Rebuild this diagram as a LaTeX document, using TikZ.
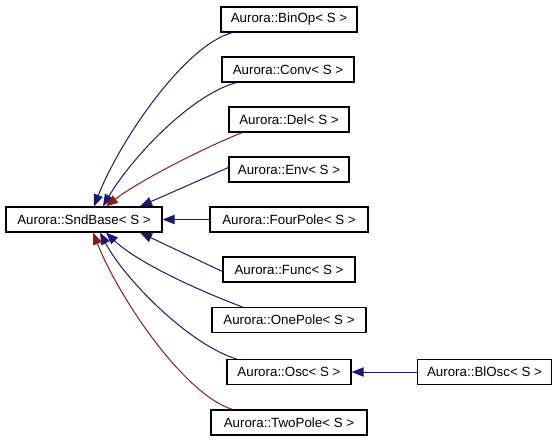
\documentclass[tikz,border=0pt]{standalone}
\usepackage{fontspec}
\setmainfont{Liberation Sans}
\usetikzlibrary{arrows.meta,calc}
\definecolor{edgeblue}{RGB}{25,25,112}
\definecolor{edgered}{RGB}{139,26,26}
\begin{document}
\begin{tikzpicture}[x=0.75pt,y=-0.75pt,
  cls/.style={draw=black,line width=0.9pt,fill=white,minimum height=18.75pt,inner sep=0pt,font=\fontsize{10}{12}\selectfont},
  pub/.style={draw=edgeblue,line width=0.75pt,-{Triangle[length=9pt,width=7pt]}},
  prot/.style={draw=edgered,line width=0.75pt,-{Triangle[length=9pt,width=7pt]}},
  pubf/.style={fill=edgeblue},protf/.style={fill=edgered}]
\useasboundingbox (0,0) rectangle (560,443);
\node[cls,minimum width=117pt] (sb) at (84,219.5) {Aurora::SndBase< S >};
\node[cls,minimum width=102pt] (bo) at (289,19.5) {Aurora::BinOp< S >};
\node[cls,minimum width=99pt] (cv) at (288,69.5) {Aurora::Conv< S >};
\node[cls,minimum width=90pt] (de) at (289,119.5) {Aurora::Del< S >};
\node[cls,minimum width=90pt] (en) at (289,169.5) {Aurora::Env< S >};
\node[cls,minimum width=118.5pt] (fp) at (289,219.5) {Aurora::FourPole< S >};
\node[cls,minimum width=99pt] (fu) at (289,269.5) {Aurora::Func< S >};
\node[cls,minimum width=115.5pt] (op) at (289,320) {Aurora::OnePole< S >};
\node[cls,minimum width=93pt] (os) at (289,372) {Aurora::Osc< S >};
\node[cls,minimum width=101pt] (bl) at (484.5,372) {Aurora::BlOsc< S >};
\node[cls,minimum width=117pt] (tp) at (289,422.5) {Aurora::TwoPole< S >};
% top edges
\draw[pub] ($(bo.south west)+(12,0)$) .. controls (185,45) and (120,140) .. ($(sb.north)+(10,0)$);
\draw[pub] ($(cv.south west)+(15,0)$) .. controls (190,95) and (130,160) .. ($(sb.north)+(19,0)$);
\draw[prot] ($(de.south west)+(14,0)$) .. controls (210,145) and (140,180) .. ($(sb.north)+(22,0)$);
\draw[pub] ($(en.west)+(0,-2)$) -- ($(sb.north)+(56,0)$);
\draw[pub] (fp.west) -- (sb.east);
% bottom edges
\draw[pub] ($(fu.west)+(0,2)$) -- ($(sb.south)+(56,0)$);
\draw[pub] ($(op.north west)+(31,0)$) .. controls (210,295) and (140,265) .. ($(sb.south)+(22,0)$);
\draw[pub] ($(os.north west)+(10,0)$) .. controls (190,345) and (125,280) .. ($(sb.south)+(16,0)$);
\draw[prot] ($(tp.north west)+(22,0)$) .. controls (185,395) and (120,300) .. ($(sb.south)+(9,0)$);
\draw[pub] (bl.west) -- (os.east);
\end{tikzpicture}
\end{document}
